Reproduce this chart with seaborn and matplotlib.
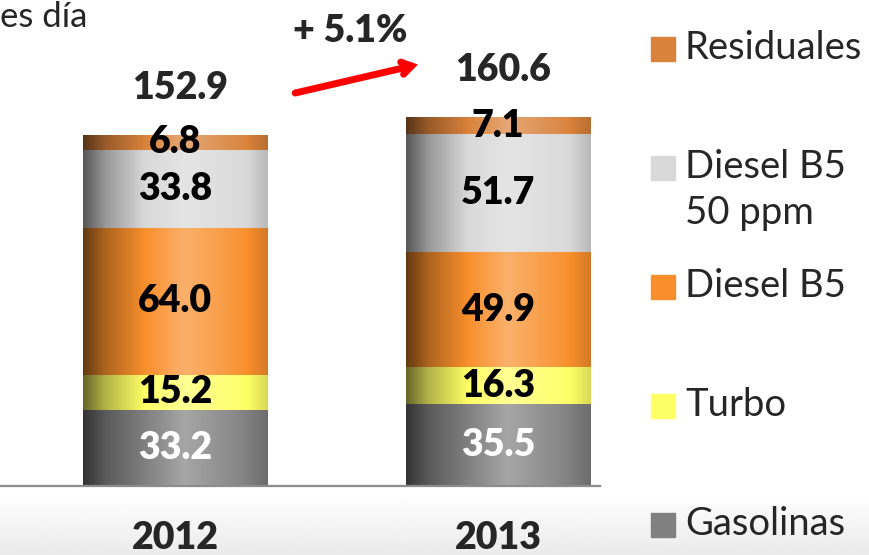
import matplotlib
matplotlib.use("Agg")
import matplotlib.pyplot as plt
from matplotlib.colors import to_rgb
from matplotlib.patches import Rectangle
import seaborn as sns
import numpy as np
import pandas as pd

# data
years = ["2012", "2013"]
gasolinas = [33.2, 35.5]
turbo = [15.2, 16.3]
diesel_b5 = [64.0, 49.9]
diesel_b5_50 = [33.8, 51.7]
residuales = [6.8, 7.1]
totals = [152.9, 160.6]
growth_label = "+ 5.1%"
unit_label = "es día"

# stack order bottom -> top
products = ["Gasolinas", "Turbo", "Diesel B5", "Diesel B5\n50 ppm", "Residuales"]
series = [gasolinas, turbo, diesel_b5, diesel_b5_50, residuales]
colors = ["#808080", "#FFFF66", "#F98F2C", "#D9D9D9", "#D9823B"]
text_colors = ["white", "black", "black", "black", "black"]

BOLD = "heavy"


def shade(rgb, s):
    rgb = np.asarray(rgb)
    if s < 0:
        return rgb * (1 + s)
    return rgb + (1 - rgb) * s


def cylinder(color, n=200):
    # horizontal shading to mimic the rounded bars
    xs = np.linspace(0, 1, n)
    s = np.interp(xs, [0, 0.12, 0.55, 0.85, 1.0], [-0.6, -0.3, 0.3, 0.05, -0.15])
    base = to_rgb(color)
    return np.array([[shade(base, v) for v in s]])


sns.set_style("white")
plt.rcParams["font.family"] = ["Lato", "DejaVu Sans"]

fig = plt.figure(figsize=(8.69, 5.55), dpi=100)

# faint grey band at the bottom
bg = fig.add_axes([0, 0, 1, 62 / 555], zorder=0)
grad = np.linspace(1.0, 0.92, 50)[:, None] * np.ones((1, 10))
bg.imshow(grad, cmap="gray", vmin=0, vmax=1, aspect="auto")
bg.axis("off")

ax = fig.add_axes([0, 69 / 555, 600 / 869, 486 / 555], zorder=1)
ax.patch.set_alpha(0)

df = pd.DataFrame({"year": years})
cum = np.zeros(len(years))
cums = []
for vals in series:
    cum = cum + np.array(vals)
    cums.append(cum.copy())

# draw layered bars, top layer first
order = list(range(len(series)))[::-1]
for i in order:
    df["cum"] = cums[i]
    sns.barplot(data=df, x="year", y="cum", color=colors[i], saturation=1,
                width=0.57, errorbar=None, ax=ax, linewidth=0)

# gradient fill clipped to every bar
for k, p in enumerate(ax.patches):
    x0, y0 = p.get_x(), p.get_y()
    w, h = p.get_width(), p.get_height()
    im = ax.imshow(cylinder(p.get_facecolor()[:3]), extent=[x0, x0 + w, y0, y0 + h],
                   aspect="auto", zorder=2 + k * 0.01, interpolation="bilinear")
    im.set_clip_path(p)

ax.set_xlim(-0.542, 1.316)
ax.set_ylim(0, 211.6)

# segment labels
for i, vals in enumerate(series):
    for j, v in enumerate(vals):
        mid = cums[i][j] - v / 2
        ax.text(j, mid, f"{v:.1f}", ha="center", va="center", fontsize=27,
                fontweight=BOLD, color=text_colors[i], zorder=5)

# totals
for j, t in enumerate(totals):
    ax.text(j + 0.015, t + 20.5, f"{t:.1f}", ha="center", va="center",
            fontsize=27, fontweight=BOLD, zorder=5)

ax.annotate("", xy=(0.752, 183.5), xytext=(0.372, 171.1),
            arrowprops=dict(arrowstyle="->,head_length=0.7,head_width=0.45",
                            color="#FF0000", lw=5, shrinkA=0, shrinkB=0,
                            joinstyle="miter"), zorder=6)
ax.text(0.542, 198.1, growth_label, ha="center", va="center", fontsize=27,
        fontweight=BOLD, zorder=6)

ax.set_xlabel("")
ax.set_ylabel("")
ax.set_yticks([])
ax.tick_params(axis="x", length=0, pad=25)
for lbl in ax.get_xticklabels():
    lbl.set_fontsize(27)
    lbl.set_fontweight(BOLD)
sns.despine(ax=ax, left=True)
ax.spines["bottom"].set_color("#8C8C8C")
ax.spines["bottom"].set_linewidth(1.6)

# unit label at the top-left edge
fig.text(0.0, 1 - 17 / 555, unit_label, ha="left", va="center", fontsize=25)

# legend, top -> bottom
for r, i in enumerate(order):
    yc = 1 - (49 + r * 119) / 555
    fig.patches.append(Rectangle((651 / 869, yc - 12 / 555), 24 / 869, 24 / 555,
                                 transform=fig.transFigure, color=colors[i], zorder=3))
    fig.text(685 / 869, yc + 19 / 555, products[i], ha="left", va="top",
             fontsize=27.5, linespacing=1.35, zorder=3)

fig.savefig("out.png", dpi=100)
